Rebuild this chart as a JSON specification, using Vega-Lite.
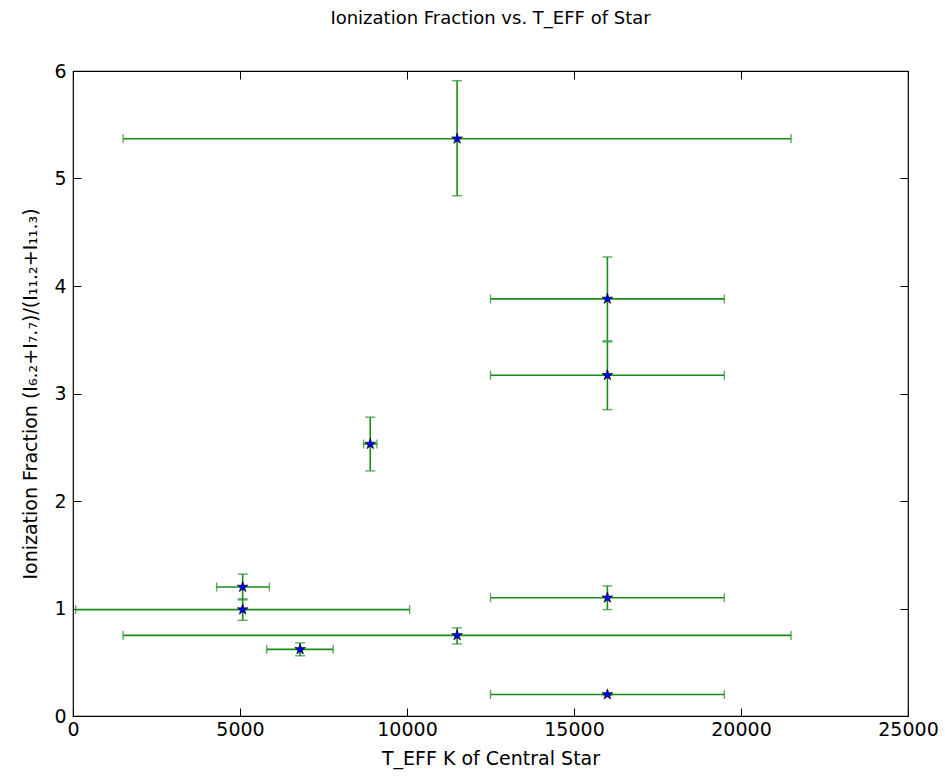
{
  "$schema": "https://vega.github.io/schema/vega-lite/v6.json",
  "width": 835,
  "height": 645,
  "autosize": "none",
  "padding": {"left": 73, "top": 71, "right": 37, "bottom": 62},
  "background": "white",
  "title": {
    "text": "Ionization Fraction vs. T_EFF of Star",
    "font": "DejaVu Sans",
    "fontSize": 18,
    "fontWeight": "normal",
    "color": "black",
    "anchor": "middle",
    "offset": 34
  },
  "config": {
    "view": {"stroke": "black", "strokeWidth": 1.2},
    "axis": {
      "domain": false,
      "grid": false,
      "labelFlush": false,
      "tickColor": "black",
      "tickSize": -8,
      "tickWidth": 1,
      "labelFont": "DejaVu Sans",
      "labelFontSize": 19,
      "labelColor": "black",
      "titleFont": "DejaVu Sans",
      "titleFontSize": 19,
      "titleFontWeight": "normal",
      "titleColor": "black"
    }
  },
  "data": {
    "values": [
      {"x": 11500, "y": 5.37, "xlo": 1500, "xhi": 21500, "ylo": 4.84, "yhi": 5.91},
      {"x": 16000, "y": 3.88, "xlo": 12500, "xhi": 19500, "ylo": 3.49, "yhi": 4.27},
      {"x": 16000, "y": 3.17, "xlo": 12500, "xhi": 19500, "ylo": 2.85, "yhi": 3.48},
      {"x": 8900, "y": 2.53, "xlo": 8700, "xhi": 9100, "ylo": 2.28, "yhi": 2.78},
      {"x": 5080, "y": 1.2, "xlo": 4300, "xhi": 5880, "ylo": 1.08, "yhi": 1.32},
      {"x": 5080, "y": 0.99, "xlo": 80, "xhi": 10080, "ylo": 0.89, "yhi": 1.09},
      {"x": 6800, "y": 0.62, "xlo": 5800, "xhi": 7790, "ylo": 0.56, "yhi": 0.68},
      {"x": 11500, "y": 0.75, "xlo": 1500, "xhi": 21500, "ylo": 0.67, "yhi": 0.82},
      {"x": 16000, "y": 1.1, "xlo": 12500, "xhi": 19500, "ylo": 0.99, "yhi": 1.21},
      {"x": 16000, "y": 0.2, "xlo": 12500, "xhi": 19500, "ylo": 0.19, "yhi": 0.21}
    ]
  },
  "layer": [
    {
      "mark": {"type": "rule", "color": "#1a8c1a", "strokeWidth": 1.6},
      "encoding": {
        "x": {"field": "xlo", "type": "quantitative", "scale": {"domain": [0, 25000], "nice": false}, "axis": {"orient": "bottom", "values": [0, 5000, 10000, 15000, 20000, 25000], "format": "d", "title": "T_EFF K of Central Star", "labelPadding": 12, "titlePadding": 10}},
        "x2": {"field": "xhi"},
        "y": {"field": "y", "type": "quantitative", "scale": {"domain": [0, 6], "nice": false}, "axis": {"orient": "left", "values": [0, 1, 2, 3, 4, 5, 6], "format": "d", "title": "Ionization Fraction (I₆.₂+I₇.₇)/(I₁₁.₂+I₁₁.₃)", "labelPadding": 15, "titlePadding": 13}}
      }
    },
    {
      "mark": {"type": "rule", "color": "#1a8c1a", "strokeWidth": 1.6},
      "encoding": {
        "x": {"field": "x", "type": "quantitative", "axis": {"orient": "top", "values": [0, 5000, 10000, 15000, 20000, 25000], "labels": false, "title": null}},
        "y": {"field": "ylo", "type": "quantitative", "axis": {"orient": "right", "values": [0, 1, 2, 3, 4, 5, 6], "labels": false, "title": null}},
        "y2": {"field": "yhi"}
      }
    },
    {
      "mark": {"type": "tick", "orient": "vertical", "color": "#1a8c1a", "size": 9, "thickness": 1.4},
      "encoding": {
        "x": {"field": "xlo", "type": "quantitative", "axis": null},
        "y": {"field": "y", "type": "quantitative", "axis": null}
      }
    },
    {
      "mark": {"type": "tick", "orient": "vertical", "color": "#1a8c1a", "size": 9, "thickness": 1.4},
      "encoding": {
        "x": {"field": "xhi", "type": "quantitative", "axis": null},
        "y": {"field": "y", "type": "quantitative", "axis": null}
      }
    },
    {
      "mark": {"type": "tick", "orient": "horizontal", "color": "#1a8c1a", "size": 10, "thickness": 1.4},
      "encoding": {
        "x": {"field": "x", "type": "quantitative", "axis": null},
        "y": {"field": "ylo", "type": "quantitative", "axis": null}
      }
    },
    {
      "mark": {"type": "tick", "orient": "horizontal", "color": "#1a8c1a", "size": 10, "thickness": 1.4},
      "encoding": {
        "x": {"field": "x", "type": "quantitative", "axis": null},
        "y": {"field": "yhi", "type": "quantitative", "axis": null}
      }
    },
    {
      "mark": {
        "type": "point",
        "shape": "M0,-1L0.225,-0.309L0.951,-0.309L0.363,0.118L0.588,0.809L0,0.382L-0.588,0.809L-0.363,0.118L-0.951,-0.309L-0.225,-0.309Z",
        "filled": true,
        "fill": "#0000ff",
        "stroke": "black",
        "strokeWidth": 0.6,
        "opacity": 1,
        "size": 130
      },
      "encoding": {
        "x": {"field": "x", "type": "quantitative", "axis": null},
        "y": {"field": "y", "type": "quantitative", "axis": null}
      }
    }
  ]
}
